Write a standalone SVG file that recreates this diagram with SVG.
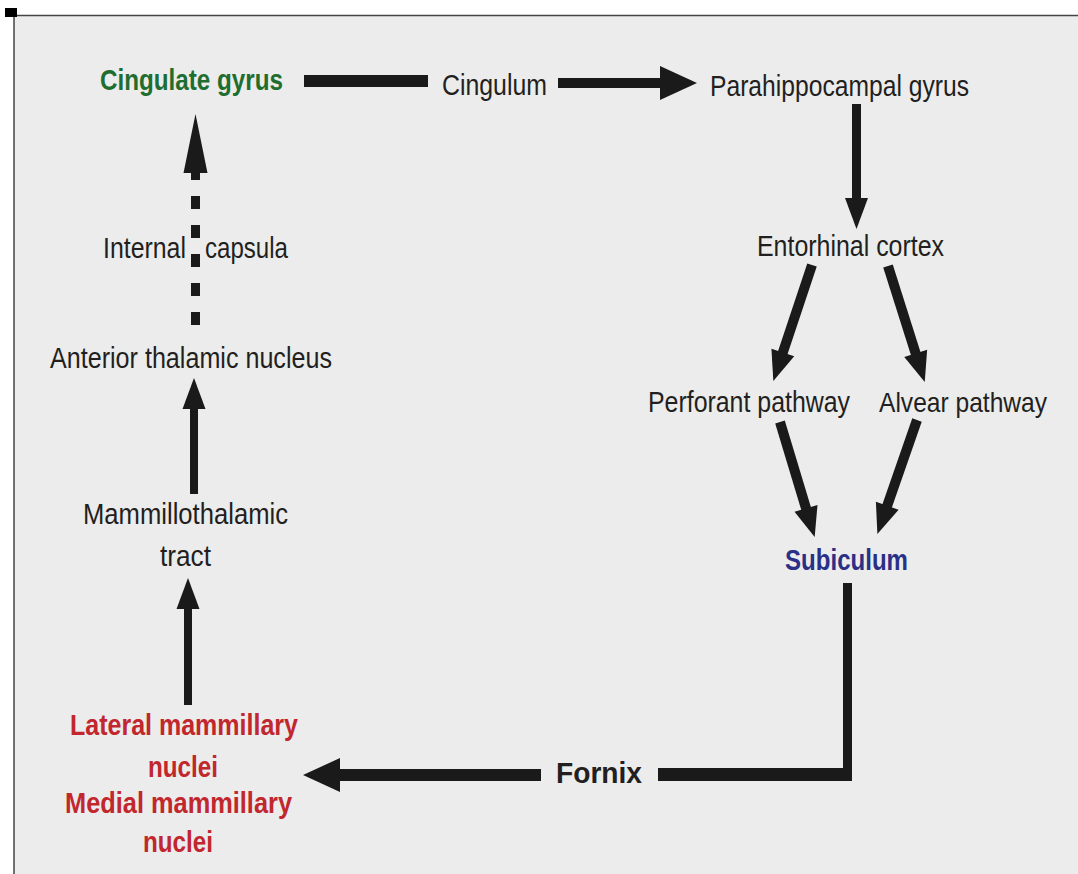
<svg xmlns="http://www.w3.org/2000/svg" width="1078" height="874" viewBox="0 0 1078 874">
<style>
  .t { font-family: "Liberation Sans", Arial, sans-serif; font-size: 30px; fill: #231f20; }
  .b { font-weight: bold; }
  .green { fill: #1f6e30; }
  .blue { fill: #2b3087; }
  .red { fill: #c1272d; }
  .conn { stroke: #1a1a1a; fill: none; }
</style>
<defs>
  <marker id="mBig" markerUnits="userSpaceOnUse" orient="auto" refX="1" refY="0" markerWidth="60" markerHeight="60" overflow="visible">
    <path d="M0,-17 L37,0 L0,17 Z" fill="#1a1a1a"/>
  </marker>
  <marker id="mV" markerUnits="userSpaceOnUse" orient="auto" refX="1" refY="0" markerWidth="60" markerHeight="60" overflow="visible">
    <path d="M0,-11.5 L31,0 L0,11.5 Z" fill="#1a1a1a"/>
  </marker>
  <marker id="mD" markerUnits="userSpaceOnUse" orient="auto" refX="1" refY="0" markerWidth="60" markerHeight="60" overflow="visible">
    <path d="M0,-12 L30,0 L0,12 Z" fill="#1a1a1a"/>
  </marker>
  <marker id="mTall" markerUnits="userSpaceOnUse" orient="auto" refX="1" refY="0" markerWidth="80" markerHeight="80" overflow="visible">
    <path d="M0,-12 L59,0 L0,12 Z" fill="#1a1a1a"/>
  </marker>
</defs>

<rect x="0" y="0" width="1078" height="874" fill="#ffffff"/>
<rect x="14" y="15" width="1064" height="859" fill="#ececec"/>
<line x1="13" y1="15.5" x2="1078" y2="15.5" stroke="#444" stroke-width="1.5"/>
<line x1="14" y1="15" x2="14" y2="874" stroke="#444" stroke-width="1.5"/>
<rect x="5" y="8" width="12" height="9" fill="#000"/>

<g id="connectors">
  <line class="conn" x1="304" y1="81" x2="428" y2="81" stroke-width="12"/>
  <line class="conn" x1="558" y1="83" x2="661" y2="83" stroke-width="10" marker-end="url(#mBig)"/>
  <line class="conn" x1="856.5" y1="104" x2="856.5" y2="199" stroke-width="9" marker-end="url(#mV)"/>
  <line class="conn" x1="812" y1="265" x2="782.5" y2="353.5" stroke-width="10" marker-end="url(#mD)"/>
  <line class="conn" x1="888" y1="266" x2="916" y2="354.4" stroke-width="10" marker-end="url(#mD)"/>
  <line class="conn" x1="780" y1="422" x2="806.3" y2="509.3" stroke-width="10" marker-end="url(#mD)"/>
  <line class="conn" x1="917" y1="420" x2="886.9" y2="506.7" stroke-width="10" marker-end="url(#mD)"/>
  <polygon points="843,583 852,583 852,781 658,781 658,768 843,768" fill="#1a1a1a"/>
  <line class="conn" x1="541" y1="775" x2="339" y2="775" stroke-width="12" marker-end="url(#mBig)"/>
  <line class="conn" x1="188" y1="705" x2="188" y2="608" stroke-width="8" marker-end="url(#mV)"/>
  <line class="conn" x1="194" y1="494" x2="194" y2="408" stroke-width="8" marker-end="url(#mV)"/>
  <line class="conn" x1="195.5" y1="325" x2="195.5" y2="172" stroke-width="9" stroke-dasharray="13 16" marker-end="url(#mTall)"/>
</g>

<g id="cingulate-gyrus"><text class="t b green" x="100" y="90" textLength="183" lengthAdjust="spacingAndGlyphs">Cingulate gyrus</text></g>
<g id="cingulum"><text class="t" x="442" y="95" textLength="105" lengthAdjust="spacingAndGlyphs">Cingulum</text></g>
<g id="parahippocampal-gyrus"><text class="t" x="710" y="96" textLength="259" lengthAdjust="spacingAndGlyphs">Parahippocampal gyrus</text></g>
<g id="entorhinal-cortex"><text class="t" x="757" y="256" textLength="187" lengthAdjust="spacingAndGlyphs">Entorhinal cortex</text></g>
<g id="perforant-pathway"><text class="t" x="648" y="412" textLength="202" lengthAdjust="spacingAndGlyphs">Perforant pathway</text></g>
<g id="alvear-pathway"><text class="t" x="879" y="412" style="font-size:28.5px" textLength="168" lengthAdjust="spacingAndGlyphs">Alvear pathway</text></g>
<g id="subiculum"><text class="t b blue" x="785" y="570" textLength="123" lengthAdjust="spacingAndGlyphs">Subiculum</text></g>
<g id="fornix"><text class="t b" x="556" y="783" textLength="86" lengthAdjust="spacingAndGlyphs">Fornix</text></g>
<g id="internal-capsula"><text class="t" y="258"><tspan x="103" textLength="83" lengthAdjust="spacingAndGlyphs">Internal</tspan><tspan x="205" textLength="83" lengthAdjust="spacingAndGlyphs">capsula</tspan></text></g>
<g id="anterior-thalamic-nucleus"><text class="t" x="50" y="368" textLength="282" lengthAdjust="spacingAndGlyphs">Anterior thalamic nucleus</text></g>
<g id="mammillothalamic-tract">
  <text class="t" x="83" y="524" textLength="205" lengthAdjust="spacingAndGlyphs">Mammillothalamic</text>
  <text class="t" x="160" y="566" textLength="51" lengthAdjust="spacingAndGlyphs">tract</text>
</g>
<g id="mammillary-nuclei">
  <text class="t b red" x="70" y="735" textLength="228" lengthAdjust="spacingAndGlyphs">Lateral mammillary</text>
  <text class="t b red" x="148" y="777" textLength="70" lengthAdjust="spacingAndGlyphs">nuclei</text>
  <text class="t b red" x="65" y="813" textLength="227" lengthAdjust="spacingAndGlyphs">Medial mammillary</text>
  <text class="t b red" x="143" y="852" textLength="70" lengthAdjust="spacingAndGlyphs">nuclei</text>
</g>
</svg>
